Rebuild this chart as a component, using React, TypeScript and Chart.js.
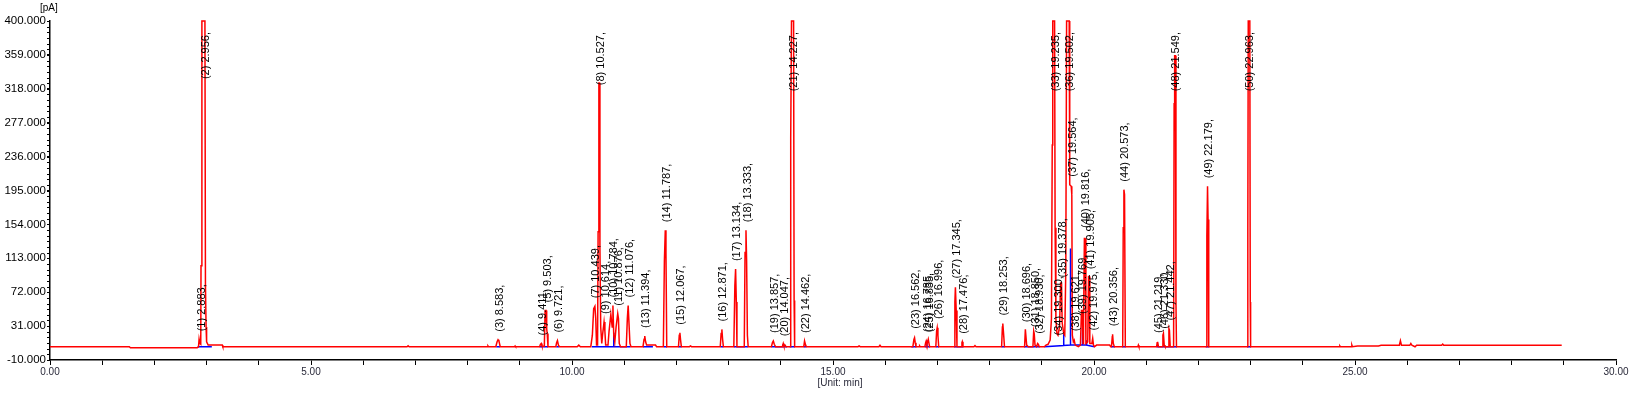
import React, { useEffect, useRef } from "react";
import { Chart, registerables } from "chart.js";

Chart.register(...registerables);

// ---- Axis ticks ----
const X_MIN = 0;
const X_MAX = 30;
const X_STEP = 1;
const X_LABEL_EVERY = 5;
const Y_MIN = -10;
const Y_MAX = 400;
const Y_STEP = 41;
const Y_MINOR_DIVISIONS = 6;
const X_TITLE = "[Unit: min]";
const Y_TITLE = "[pA]";

// ---- Peak table (number, retention time, apex height in pA) ----
const peakNumbers = [
  1, 2, 3, 4, 5, 6, 7, 8, 9, 10, 11, 12, 13, 14, 15, 16, 17, 18, 19, 20, 21, 22, 23, 24, 25,
  26, 27, 28, 29, 30, 31, 32, 33, 34, 35, 36, 37, 38, 39, 40, 41, 42, 43, 44, 45, 46, 47, 48, 49, 50,
];
const peakTimes = [
  2.883, 2.956, 8.583, 9.411, 9.503, 9.721, 10.439, 10.527, 10.614, 10.784, 10.876, 11.076, 11.394,
  11.787, 12.067, 12.871, 13.134, 13.333, 13.857, 14.047, 14.227, 14.462, 16.562, 16.785, 16.835,
  16.996, 17.345, 17.476, 18.253, 18.696, 18.85, 18.93, 19.235, 19.3, 19.378, 19.502, 19.564, 19.621,
  19.769, 19.816, 19.905, 19.975, 20.356, 20.573, 21.219, 21.33, 21.442, 21.549, 22.179, 22.963,
];
const peakHeights = [
  15, 400, 14.5, 10, 50, 13.5, 55, 325, 36, 56, 46, 56, 19, 147, 23, 27, 100, 147, 13, 9, 400, 13,
  18, 14, 14, 30, 79, 12, 34, 26, 20, 12, 400, 10, 80, 400, 202, 15, 36, 140, 90, 16, 21, 196, 13,
  18, 28, 358, 200, 400,
];

// ---- Detector trace (red), [time min, signal pA] ----
const traceStart: [number, number][] = [
  [0, 6.1], [1.52, 6.1], [1.54, 4.9], [2.82, 4.9], [2.845, 6], [2.856, 15], [2.87, 10], [2.888, 9],
  [2.893, 104], [2.91, 400], [2.968, 400], [2.978, 80], [2.99, 30], [3.0, 12], [3.03, 8], [3.3, 8],
  [3.31, 6.1], [6.84, 6.1], [6.86, 7.3], [6.88, 6.1], [8.38, 6.1], [8.39, 7], [8.4, 6.1],
  [8.54, 6.1], [8.565, 12], [8.583, 14.5], [8.6, 13], [8.625, 6.1], [8.9, 6.1], [8.91, 7], [8.92, 6.1],
  [9.38, 6.1], [9.395, 9], [9.411, 10], [9.425, 7], [9.47, 6.5], [9.485, 50], [9.503, 50],
  [9.515, 28], [9.525, 22], [9.54, 6.1], [9.69, 6.1], [9.705, 11], [9.721, 13.5], [9.74, 8], [9.76, 6.1],
];
const traceMid: [number, number][] = [
  [10.1, 6.1], [10.13, 8], [10.16, 6.1], [10.36, 6.1], [10.39, 20], [10.415, 52], [10.439, 55],
  [10.455, 40], [10.47, 8], [10.49, 8], [10.5, 145], [10.515, 325], [10.527, 325], [10.535, 125],
  [10.55, 30], [10.57, 10], [10.585, 20], [10.614, 36], [10.63, 25], [10.645, 8], [10.69, 8],
  [10.71, 25], [10.744, 45], [10.77, 30], [10.784, 56], [10.8, 20], [10.82, 12], [10.845, 30],
  [10.876, 46], [10.89, 40], [10.905, 10], [10.93, 6.1], [11.04, 6.1], [11.06, 40], [11.076, 56],
  [11.09, 56], [11.11, 10], [11.13, 6.1], [11.36, 6.1], [11.38, 15], [11.394, 19], [11.41, 12],
  [11.43, 8], [11.6, 8], [11.62, 6.1], [11.75, 6.1], [11.77, 110], [11.787, 147], [11.8, 120],
  [11.815, 6.1], [12.04, 6.1], [12.055, 20], [12.067, 23], [12.08, 14], [12.095, 6.1], [12.25, 6.1],
  [12.27, 7], [12.29, 6.1], [12.84, 6.1], [12.857, 22], [12.871, 27], [12.885, 15], [12.9, 6.1],
  [13.1, 6.1], [13.12, 80], [13.134, 100], [13.148, 60], [13.16, 6.1], [13.3, 6.1], [13.315, 120],
  [13.333, 147], [13.345, 110], [13.36, 20], [13.375, 6.1], [13.82, 6.1], [13.84, 11], [13.857, 13],
  [13.875, 9], [13.9, 6.1], [14.03, 6.1], [14.047, 10], [14.06, 7], [14.08, 8], [14.1, 6.1],
  [14.18, 6.1], [14.19, 258], [14.205, 400], [14.245, 400], [14.255, 62], [14.265, 6.1], [14.44, 6.1],
  [14.455, 13], [14.462, 13], [14.475, 8], [14.49, 6.1], [15.48, 6.1], [15.5, 7], [15.52, 6.1],
  [15.88, 6.1], [15.9, 7.8], [15.92, 6.1],
];
const traceLate: [number, number][] = [
  [16.53, 6.1], [16.55, 15], [16.562, 17], [16.575, 11], [16.59, 6.1], [16.65, 6.1], [16.66, 7],
  [16.67, 6.1], [16.76, 6.1], [16.775, 11], [16.785, 13], [16.8, 9], [16.825, 15], [16.835, 15],
  [16.85, 6.1], [16.97, 6.1], [16.985, 25], [16.996, 29], [17.01, 20], [17.025, 6.1], [17.32, 6.1],
  [17.335, 60], [17.345, 78], [17.36, 50], [17.375, 6.1], [17.455, 6.1], [17.47, 11], [17.476, 12],
  [17.49, 6.1], [17.7, 6.1], [17.72, 7.5], [17.74, 6.1], [18.23, 6.1], [18.245, 30], [18.253, 34],
  [18.27, 20], [18.285, 6.1], [18.67, 6.1], [18.685, 27], [18.696, 27], [18.71, 8], [18.74, 6.1],
  [18.83, 6.1], [18.845, 25], [18.855, 22], [18.87, 8], [18.9, 6.1], [18.92, 10], [18.935, 9],
  [18.95, 6.1], [19.05, 6.1], [19.08, 8], [19.12, 9], [19.16, 14], [19.185, 40], [19.2, 250],
  [19.21, 400], [19.245, 400], [19.255, 150], [19.27, 40], [19.29, 22], [19.31, 20], [19.34, 30],
  [19.36, 83], [19.378, 83], [19.39, 35], [19.42, 22], [19.44, 20], [19.46, 100], [19.475, 400],
  [19.525, 400], [19.535, 202], [19.564, 200], [19.575, 190], [19.585, 20], [19.605, 12],
  [19.621, 14], [19.64, 8], [19.7, 6.1], [19.74, 8], [19.76, 50], [19.775, 50], [19.79, 10],
  [19.8, 40], [19.816, 137], [19.83, 137], [19.845, 10], [19.88, 12], [19.895, 91], [19.905, 91],
  [19.92, 10], [19.96, 10], [19.975, 16], [19.99, 8], [20.01, 6.1], [20.05, 8], [20.3, 8],
  [20.32, 6.1], [20.335, 6.1], [20.35, 18], [20.356, 21], [20.37, 10], [20.39, 6.1],
];
const traceEnd: [number, number][] = [
  [20.55, 6.1], [20.56, 150], [20.573, 196], [20.585, 190], [20.6, 6.1], [20.84, 6.1], [20.85, 8],
  [20.86, 6.1], [21.2, 6.1], [21.21, 11], [21.219, 12], [21.235, 6.1], [21.31, 6.1], [21.32, 20],
  [21.33, 22], [21.345, 8], [21.36, 6.1], [21.42, 6.1], [21.435, 28], [21.445, 26], [21.46, 6.1],
  [21.525, 6.1], [21.535, 300], [21.545, 358], [21.56, 358], [21.57, 60], [21.58, 6.1], [22.15, 6.1],
  [22.162, 140], [22.175, 200], [22.185, 160], [22.198, 6.1], [22.94, 6.1], [22.947, 150],
  [22.955, 400], [22.985, 400], [22.993, 60], [23.0, 6.1], [24.7, 6.1], [24.71, 7], [24.72, 6.1],
  [24.93, 6.1], [24.94, 8], [24.95, 6.1], [25.05, 6.9], [25.45, 6.9], [25.5, 7.8], [25.85, 7.8],
  [25.87, 13.3], [25.89, 7.8], [26.05, 7.8], [26.07, 10], [26.09, 7.8], [26.15, 6], [26.18, 7.8],
  [26.66, 7.8], [26.68, 9.3], [26.7, 7.8], [28.96, 7.8],
];

// ---- Integration baselines and drop lines (blue), null = gap ----
const integrationLines: [number, number | null][] = [
  [2.83, 6.1], [3.1, 6.1], [3.1, null],
  [8.55, 6.1], [8.62, 6.1], [8.62, null],
  [9.38, 6.1], [9.54, 6.1], [9.54, null],
  [9.7, 6.1], [9.75, 6.1], [9.75, null],
  [10.38, 6.1], [10.8, 6.1], [10.8, 23], [10.8, 6.1], [11.12, 6.1], [11.12, null],
  [11.36, 6.1], [11.55, 6.1], [11.55, null],
  [11.76, 6.1], [11.82, 6.1], [11.82, null],
  [12.04, 6.1], [12.1, 6.1], [12.1, null],
  [12.85, 6.1], [12.9, 6.1], [12.9, null],
  [13.1, 6.1], [13.37, 6.1], [13.37, null],
  [13.82, 6.1], [14.04, 6.1], [14.04, 9], [14.04, 6.1], [14.12, 6.1], [14.12, null],
  [14.17, 6.1], [14.27, 6.1], [14.27, null],
  [14.44, 6.1], [14.49, 6.1], [14.49, null],
  [16.5, 6.1], [16.6, 6.1], [16.6, null],
  [16.76, 6.1], [16.8, 6.1], [16.8, 14], [16.8, 6.1], [16.86, 6.1], [16.86, null],
  [16.97, 6.1], [17.03, 6.1], [17.03, null],
  [17.32, 6.1], [17.5, 6.1], [17.5, null],
  [18.23, 6.1], [18.29, 6.1], [18.29, null],
  [18.66, 6.1], [18.96, 6.1], [18.96, null],
  [19.05, 6.1], [19.42, 7.5], [19.42, 22], [19.42, 7.5], [19.55, 8], [19.55, 125], [19.55, 8],
  [19.78, 8], [19.78, 50], [19.78, 8], [19.86, 8], [19.86, 14], [19.86, 8], [20.01, 6.1], [20.01, null],
  [20.33, 6.1], [20.4, 6.1], [20.4, null],
  [20.54, 6.1], [20.61, 6.1], [20.61, null],
  [21.2, 6.1], [21.59, 6.1], [21.59, null],
  [22.14, 6.1], [22.21, 6.1], [22.21, null],
  [22.93, 6.1], [23.01, 6.1],
];

const FONT = "Arial, 'Liberation Sans', sans-serif";

const peakLabelPlugin = {
  id: "peakLabels",
  afterDatasetsDraw(chart: any) {
    const { ctx, chartArea, scales } = chart;
    const xs = scales.x;
    const ys = scales.y;
    ctx.save();
    ctx.fillStyle = "#000";
    ctx.font = `11px ${FONT}`;
    ctx.textAlign = "left";
    ctx.textBaseline = "middle";
    for (let i = 0; i < peakNumbers.length; i++) {
      const text = `(${peakNumbers[i]}) ${peakTimes[i].toFixed(3)},`;
      const w = ctx.measureText(text).width;
      const x = xs.getPixelForValue(peakTimes[i]) + 1.5;
      const apex = ys.getPixelForValue(Math.min(peakHeights[i], Y_MAX));
      const bottom = Math.max(apex - 8, chartArea.top + 11 + w);
      ctx.save();
      ctx.translate(x, bottom);
      ctx.rotate(-Math.PI / 2);
      ctx.fillText(text, 0, 0);
      ctx.restore();
    }
    ctx.restore();
  },
  afterDraw(chart: any) {
    const { ctx, chartArea, scales } = chart;
    const ys = scales.y;
    ctx.save();
    ctx.strokeStyle = "#000";
    ctx.lineWidth = 1;
    const minorStep = Y_STEP / Y_MINOR_DIVISIONS;
    const n = Math.round((Y_MAX - Y_MIN) / minorStep);
    ctx.beginPath();
    for (let i = 0; i <= n; i++) {
      const y = Math.round(ys.getPixelForValue(Y_MIN + i * minorStep)) + 0.5;
      ctx.moveTo(chartArea.left - 3, y);
      ctx.lineTo(chartArea.left, y);
    }
    ctx.stroke();
    ctx.fillStyle = "#000";
    ctx.font = `10px ${FONT}`;
    ctx.textBaseline = "middle";
    ctx.textAlign = "left";
    ctx.fillText(Y_TITLE, 40, 8);
    ctx.textAlign = "center";
    ctx.fillStyle = "#2a2a3a";
    ctx.fillText(X_TITLE, 840, 383);
    ctx.restore();
  },
};

export default function App() {
  const canvasRef = useRef<HTMLCanvasElement | null>(null);

  useEffect(() => {
    const canvas = canvasRef.current;
    if (!canvas) return;
    const redData = [...traceStart, ...traceMid, ...traceLate, ...traceEnd].map(([x, y]) => ({ x, y }));
    const blueData = integrationLines.map(([x, y]) => ({ x, y }));
    const chart = new Chart(canvas, {
      type: "line",
      data: {
        datasets: [
          {
            data: redData as any,
            borderColor: "#ff0000",
            borderWidth: 1.5,
            pointRadius: 0,
            tension: 0,
            fill: false,
            clip: 3 as any,
          },
          {
            data: blueData as any,
            borderColor: "#0000ff",
            borderWidth: 1.5,
            pointRadius: 0,
            tension: 0,
            fill: false,
            spanGaps: false,
          },
        ],
      },
      options: {
        responsive: false,
        animation: false,
        devicePixelRatio: 1,
        layout: { padding: { top: 21, right: 20, left: 0, bottom: 0 } },
        plugins: { legend: { display: false }, tooltip: { enabled: false } },
        scales: {
          x: {
            type: "linear",
            min: X_MIN,
            max: X_MAX,
            afterFit: (s: any) => {
              s.height = 35;
            },
            ticks: {
              stepSize: X_STEP,
              autoSkip: false,
              maxRotation: 0,
              padding: 1,
              color: "#2a2a3a",
              font: { family: FONT, size: 10 },
              callback: (v: any) =>
                Math.abs(Number(v) % X_LABEL_EVERY) < 1e-6 ? Number(v).toFixed(2) : "",
            },
            grid: { display: true, drawOnChartArea: false, drawTicks: true, tickLength: 5, color: "#000" },
            border: { display: true, color: "#000", width: 1.5 },
          },
          y: {
            type: "linear",
            min: Y_MIN,
            max: Y_MAX,
            afterFit: (s: any) => {
              s.width = 50;
            },
            ticks: {
              stepSize: Y_STEP,
              autoSkip: false,
              padding: 1,
              color: "#000",
              font: { family: FONT, size: 11.5 },
              callback: (v: any) => Number(v).toFixed(3),
            },
            grid: { display: true, drawOnChartArea: false, drawTicks: true, tickLength: 3, color: "#000" },
            border: { display: true, color: "#000", width: 1.5 },
          },
        },
      },
      plugins: [peakLabelPlugin],
    });
    return () => chart.destroy();
  }, []);

  return (
    <div style={{ position: "fixed", left: 0, top: 0, width: 1636, height: 395, background: "#fff" }}>
      <canvas ref={canvasRef} width={1636} height={395} style={{ display: "block" }} />
    </div>
  );
}
